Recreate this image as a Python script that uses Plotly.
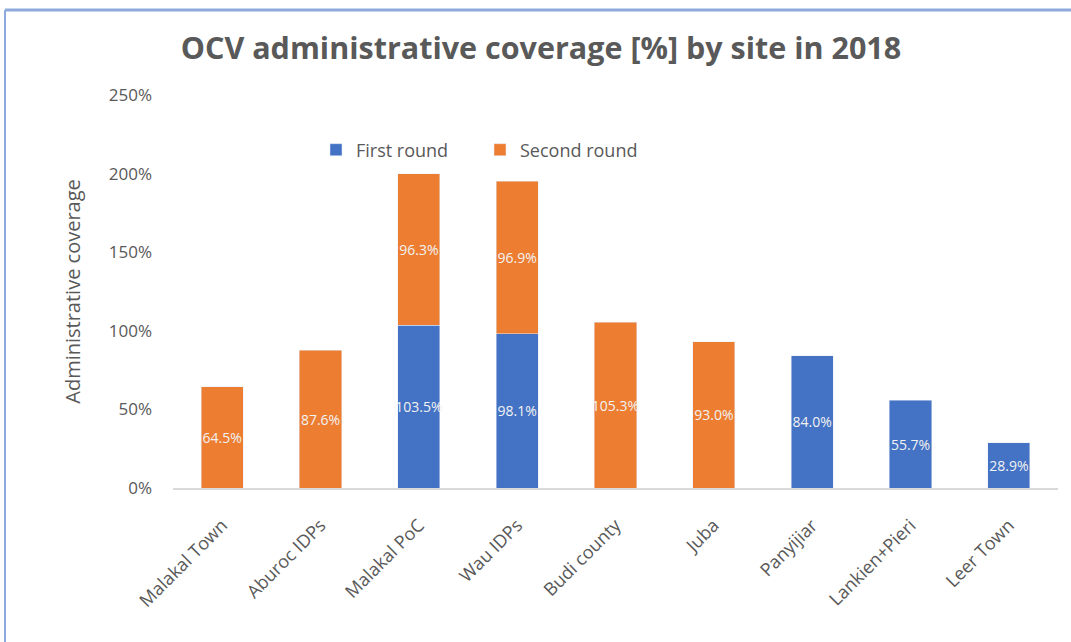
import plotly.graph_objects as go

sites = ["Malakal Town", "Aburoc IDPs", "Malakal PoC", "Wau IDPs", "Budi county",
         "Juba", "Panyijiar", "Lankien+Pieri", "Leer Town"]
first_round = [None, None, 103.5, 98.1, None, None, 84.0, 55.7, 28.9]
second_round = [64.5, 87.6, 96.3, 96.9, 105.3, 93.0, None, None, None]

BLUE = "#4472C4"
ORANGE = "#ED7D31"
GREY = "#595959"
FONT = "Open Sans"

def labels(vals):
    return [f"{v:.1f}%" if v is not None else "" for v in vals]

fig = go.Figure()
for name, vals, col in [("First round", first_round, BLUE),
                        ("Second round", second_round, ORANGE)]:
    fig.add_trace(go.Bar(
        name=name, x=sites, y=vals, marker_color=col,
        text=labels(vals), textposition="inside", insidetextanchor="middle",
        textangle=0, constraintext="none",
        textfont=dict(color="#F2F2F2", size=14, family=FONT),
    ))

W, H = 1071, 642
L, R, T, B = 173, 13, 95, 154
pw, ph = W - L - R, H - T - B

fig.update_layout(
    width=W, height=H, barmode="stack", bargap=0.57,
    paper_bgcolor="white", plot_bgcolor="white",
    margin=dict(l=L, r=R, t=T, b=B),
    font=dict(family=FONT, color=GREY),
    title=dict(text="<b>OCV administrative coverage [%] by site in 2018</b>",
               x=(541 - L) / pw, xref="paper", xanchor="center",
               y=1 - 48 / H, yanchor="middle",
               font=dict(size=30.5, color=GREY, family=FONT)),
    legend=dict(orientation="h", x=(316 - L) / pw, xanchor="left",
                y=1 + (T - 150) / ph, yanchor="middle",
                font=dict(size=18, color=GREY), traceorder="normal",
                itemwidth=30, entrywidth=119, entrywidthmode="pixels",
                bgcolor="rgba(0,0,0,0)"),
    uniformtext=dict(minsize=8, mode="show"),
)
fig.update_xaxes(showgrid=False, showline=True, linecolor="#D9D9D9", linewidth=1.5,
                 tickangle=-45, tickfont=dict(size=18, color=GREY), ticks="",
                 ticklabelstandoff=18, automargin=False)
fig.update_yaxes(range=[0, 250], dtick=50, ticksuffix="%", showgrid=False,
                 zeroline=False, showline=False, automargin=False,
                 tickfont=dict(size=17, color=GREY), ticklabelstandoff=20,
                 title=dict(text="Administrative coverage", font=dict(size=20, color=GREY),
                            standoff=22))

# frame lines of the original chart area
fig.add_shape(type="line", xref="paper", yref="paper",
              x0=(5 - L) / pw, x1=(W - L) / pw, y0=1 + (T - 10) / ph, y1=1 + (T - 10) / ph,
              line=dict(color="#8EA9DB", width=3))
fig.add_shape(type="line", xref="paper", yref="paper",
              x0=(5 - L) / pw, x1=(5 - L) / pw, y0=1 + (T - 10) / ph, y1=-(B) / ph,
              line=dict(color="#8EA9DB", width=2))

fig.write_html("out.html", config={"displayModeBar": False},
               post_script="document.body.style.margin='0';document.body.style.overflow='hidden';")
